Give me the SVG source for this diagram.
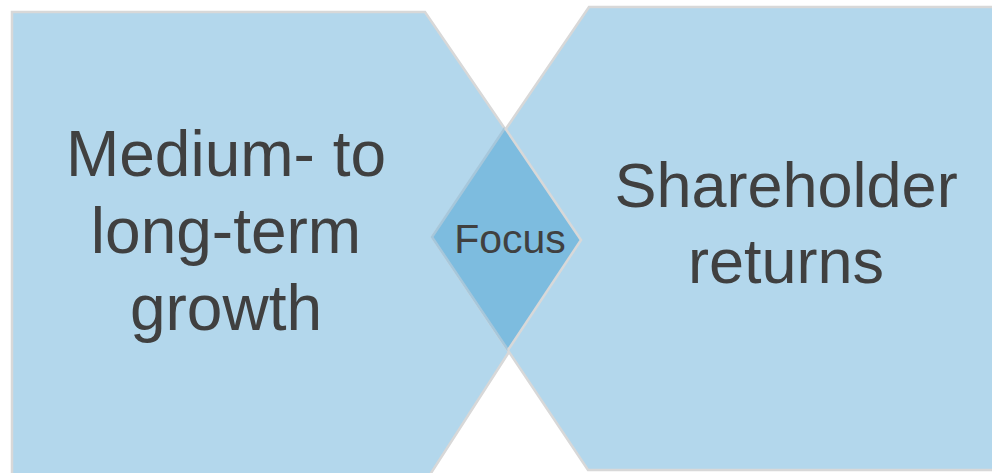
<svg xmlns="http://www.w3.org/2000/svg" width="992" height="473" viewBox="0 0 992 473">
<style>
.shape{fill:#B3D7EC;stroke:#D8D8D8;stroke-width:2.5;stroke-linejoin:miter}
.lbl{font-family:"Liberation Sans",Arial,sans-serif;fill:#404040;text-anchor:middle}
</style>
<rect width="992" height="473" fill="#FFFFFF"/>
<g id="left">
<polygon class="shape" points="12,12 425,12 581,240 424,484 12,484"/>
<text class="lbl" font-size="64" x="226" y="176">Medium- to</text>
<text class="lbl" font-size="64" x="226" y="253">long-term</text>
<text class="lbl" font-size="64" x="226" y="330">growth</text>
</g>
<g id="right">
<polygon class="shape" points="589,7 1000,7 1000,470 588,470 432,237"/>
<text class="lbl" font-size="63" x="786" y="207">Shareholder</text>
<text class="lbl" font-size="63" x="786" y="283">returns</text>
</g>
<g id="focus">
<polygon points="505,128 581,240 508,350 432,237" fill="#7DBCDF"/>
<polyline points="505,128 432,237 508,350" fill="none" stroke="#A6C7DB" stroke-width="2.5"/>
<polyline points="505,128 581,240 508,350" fill="none" stroke="#D8D8D8" stroke-width="2.5"/>
<text class="lbl" font-size="41" x="510" y="253">Focus</text>
</g>
</svg>
